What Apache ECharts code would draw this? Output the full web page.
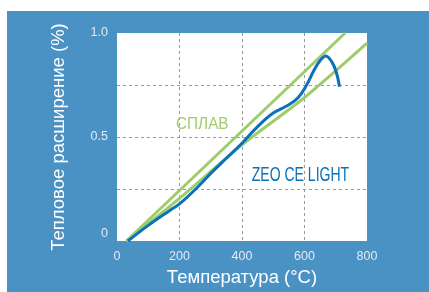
<!DOCTYPE html>
<html>
<head>
<meta charset="utf-8">
<script src="https://cdn.jsdelivr.net/npm/echarts@6/dist/echarts.min.js"></script>
<style>
html,body{margin:0;padding:0;background:#ffffff;}
#wrap{position:absolute;left:7px;top:11px;width:422px;height:281px;background:#4a92c4;}
#chart{width:422px;height:281px;}
</style>
</head>
<body>
<div id="wrap"><div id="chart"></div></div>
<script>
// Data
const xTicks = [0, 200, 400, 600, 800];
const yTickLabels = { 0: '0', 0.5: '0.5', 1: '1.0' };
const alloyUpper = [[30, 0], [730, 1.0]];
const alloyLower = [[30, 0], [200, 0.205], [400, 0.462], [600, 0.69], [800, 0.951]];
const zeoCeLight = [[35, 0], [100, 0.075], [170, 0.148], [200, 0.178], [260, 0.262], [300, 0.325],
  [350, 0.398], [400, 0.47], [450, 0.55], [500, 0.615], [550, 0.655], [580, 0.69], [605, 0.745],
  [630, 0.82], [650, 0.868], [668, 0.89], [688, 0.86], [702, 0.81], [712, 0.742]];
const alloyName = 'СПЛАВ';
const zeoName = 'ZEO CE LIGHT';
const alloyLabelAt = [189, 0.562];
const zeoLabelAt = [431, 0.316];

const GREEN = '#9fcc6b';
const BLUE = '#0a72b8';
const TICK = '#e3ebf4';
const SANS = '"Liberation Sans", Arial, sans-serif';

const chart = echarts.init(document.getElementById('chart'), null, { renderer: 'canvas' });
chart.setOption({
  animation: false,
  grid: { left: 110, right: 62, top: 22, bottom: 49, show: true, backgroundColor: '#ffffff', borderWidth: 0 },
  xAxis: {
    type: 'value', min: 0, max: 800, interval: 200,
    name: 'Температура (°C)', nameLocation: 'middle', nameGap: 27,
    nameTextStyle: { color: '#ffffff', fontSize: 18.5, fontFamily: SANS },
    axisLine: { show: false }, axisTick: { show: false },
    axisLabel: { color: TICK, fontSize: 12.5, fontFamily: SANS, margin: 9 },
    splitLine: { show: true, showMinLine: false, showMaxLine: false,
      lineStyle: { color: '#999999', type: [3, 3], width: 1 } }
  },
  yAxis: {
    type: 'value', min: 0, max: 1, interval: 0.25,
    name: 'Тепловое расширение (%)', nameLocation: 'middle', nameGap: 49,
    nameTextStyle: { color: '#ffffff', fontSize: 18.5, fontFamily: SANS },
    axisLine: { show: false }, axisTick: { show: false },
    axisLabel: {
      color: TICK, fontSize: 12.5, fontFamily: SANS, margin: 9,
      formatter: v => (yTickLabels[v] === undefined ? '' : (v === 0 ? '{z|0}' : yTickLabels[v])),
      rich: { z: { color: TICK, fontSize: 12.5, fontFamily: SANS, padding: [0, 0, 14, 0] } }
    },
    splitLine: { show: true, showMinLine: false, showMaxLine: false,
      lineStyle: { color: '#999999', type: [3, 3], width: 1 } }
  },
  series: [
    { type: 'line', data: alloyUpper, symbol: 'none', lineStyle: { color: GREEN, width: 3 }, z: 2 },
    { type: 'line', data: alloyLower, symbol: 'none', smooth: 0.3, lineStyle: { color: GREEN, width: 3 }, z: 2 },
    { type: 'line', data: zeoCeLight, symbol: 'none', smooth: 0.4, lineStyle: { color: BLUE, width: 3 }, z: 3 }
  ]
});

// Curve annotations as real text, placed through the chart's own scales, horizontally condensed
const pA = chart.convertToPixel({ gridIndex: 0 }, alloyLabelAt);
const pZ = chart.convertToPixel({ gridIndex: 0 }, zeoLabelAt);
chart.setOption({
  graphic: [
    { type: 'text', x: pA[0], y: pA[1], scaleX: 0.9, z: 10, silent: true,
      style: { text: alloyName, fill: GREEN, font: '17px ' + SANS, verticalAlign: 'middle', align: 'left' } },
    { type: 'text', x: pZ[0], y: pZ[1], scaleX: 0.72, z: 10, silent: true,
      style: { text: zeoName, fill: BLUE, font: '19.5px ' + SANS, verticalAlign: 'middle', align: 'left' } }
  ]
});
</script>
</body>
</html>
